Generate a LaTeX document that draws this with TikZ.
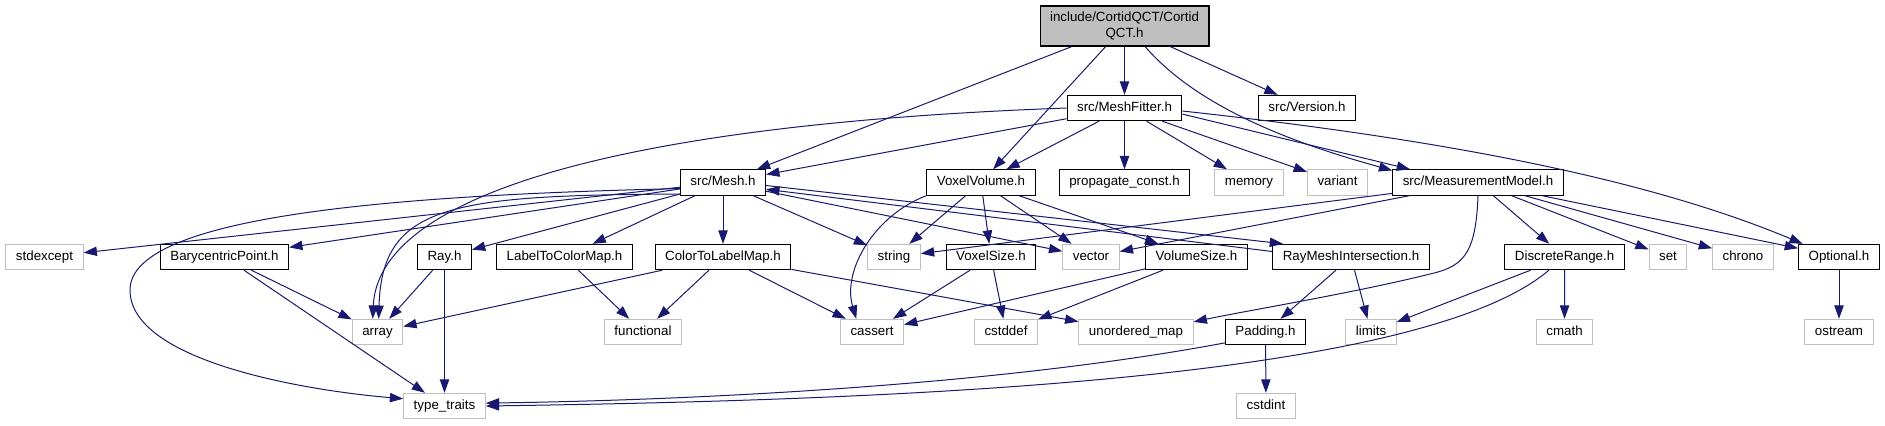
\documentclass[tikz,border=0pt]{standalone}
\usepackage{fontspec}
\setmainfont{Liberation Sans}
\usetikzlibrary{arrows.meta}
\definecolor{edgeblue}{HTML}{191970}
\definecolor{sysgray}{HTML}{BFBFBF}
\begin{document}
\begin{tikzpicture}[x=0.75pt,y=0.75pt,
  hdr/.style={draw=black,line width=0.8pt,inner xsep=7.5pt,inner ysep=0pt,minimum height=19pt,text height=7.3pt,text depth=2.2pt},
  sys/.style={hdr,draw=sysgray},
  inc/.style={draw=edgeblue,line width=0.75pt,-{Triangle[length=10pt,width=7pt]}}]
\useasboundingbox (0,0) rectangle (1885,-425);

% file of the graph
\node[draw=black,line width=0.8pt,fill=sysgray,align=center,inner xsep=7.5pt,minimum height=30pt] (root) at (1124.5,-26) {include/CortidQCT/Cortid\\QCT.h};

% first level
\node[hdr] (meshfitter) at (1124.5,-108) {src/MeshFitter.h};
\node[hdr] (version) at (1307,-108) {src/Version.h};

\node[hdr] (mesh) at (723,-182.5) {src/Mesh.h};
\node[hdr] (voxelvolume) at (981,-182.5) {VoxelVolume.h};
\node[hdr] (propconst) at (1124.5,-182.5) {propagate\_const.h};
\node[sys] (memory) at (1249,-182.5) {memory};
\node[sys] (variant) at (1337.5,-182.5) {variant};
\node[hdr] (measmodel) at (1478,-182.5) {src/MeasurementModel.h};

\node[sys] (stdexcept) at (44.5,-257) {stdexcept};
\node[hdr] (barypoint) at (224.5,-257) {BarycentricPoint.h};
\node[hdr] (ray) at (444.5,-257) {Ray.h};
\node[hdr] (labelmap) at (564.5,-257) {LabelToColorMap.h};
\node[hdr] (colormap) at (723,-257) {ColorToLabelMap.h};
\node[sys] (string) at (894,-257) {string};
\node[hdr] (voxelsize) at (991,-257) {VoxelSize.h};
\node[sys] (vector) at (1091,-257) {vector};
\node[hdr] (volumesize) at (1196.5,-257) {VolumeSize.h};
\node[hdr] (raymesh) at (1351,-257) {RayMeshIntersection.h};
\node[hdr] (discrange) at (1564.6,-257) {DiscreteRange.h};
\node[sys] (set) at (1668,-257) {set};
\node[sys] (chrono) at (1743,-257) {chrono};
\node[hdr] (optional) at (1839,-257) {Optional.h};

\node[sys] (array) at (377.5,-332) {array};
\node[sys] (functional) at (643,-332) {functional};
\node[sys] (cassert) at (872,-332) {cassert};
\node[sys] (cstddef) at (1006,-332) {cstddef};
\node[sys] (umap) at (1136,-332) {unordered\_map};
\node[hdr] (padding) at (1265.5,-332) {Padding.h};
\node[sys] (limits) at (1371,-332) {limits};
\node[sys] (cmath) at (1564.5,-332) {cmath};
\node[sys] (ostream) at (1839,-332) {ostream};

\node[sys] (typetraits) at (444.5,-406) {type\_traits};
\node[sys] (cstdint) at (1266,-406) {cstdint};

% includes
\foreach \a/\b in {root/mesh,root/voxelvolume,root/meshfitter,root/version,
  meshfitter/mesh,meshfitter/voxelvolume,meshfitter/propconst,meshfitter/memory,meshfitter/variant,
  mesh/stdexcept,mesh/barypoint,mesh/ray,mesh/labelmap,mesh/colormap,mesh/string,mesh/vector,
  voxelvolume/string,voxelvolume/voxelsize,voxelvolume/vector,voxelvolume/volumesize,
  measmodel/string,measmodel/vector,measmodel/discrange,measmodel/set,measmodel/chrono,
  barypoint/array,barypoint/typetraits,ray/array,ray/typetraits,labelmap/functional,
  colormap/array,colormap/functional,colormap/cassert,colormap/umap,
  voxelsize/cassert,voxelsize/cstddef,volumesize/cassert,volumesize/cstddef,
  raymesh/padding,raymesh/limits,padding/cstdint,discrange/limits,discrange/cmath,optional/ostream}
  \draw[inc] (\a) -- (\b);

\draw[inc] (meshfitter.-6) -- (measmodel.169);
\draw[inc] (measmodel) -- (optional.168);
\draw[inc] (mesh.-4) -- (raymesh.169);
\draw[inc] (raymesh.176) -- (mesh.-9);

% curved includes
\draw[inc] (root.-45) .. controls (1200,-110) and (1300,-145) .. (measmodel.172);
\draw[inc] (meshfitter.-3) .. controls (1450,-140) and (1650,-180) .. (optional.160);
\draw[inc] (meshfitter.west) .. controls (600,-125) and (378,-200) .. (array.110);
\draw[inc] (mesh.195) .. controls (450,-195) and (382,-205) .. (array.85);
\draw[inc] (mesh.188) .. controls (400,-195) and (130,-215) .. (130,-290)
  .. controls (130,-360) and (300,-390) .. (typetraits.170);
\draw[inc] (voxelvolume.south west) .. controls (875,-215) and (842,-270) .. (cassert.140);
\draw[inc] (measmodel.south) .. controls (1476,-250) and (1465,-264) .. (1438,-272)
  .. controls (1360,-292) and (1250,-310) .. (umap.10);
\draw[inc] (padding.195) .. controls (1000,-385) and (700,-400) .. (typetraits.4);
\draw[inc] (discrange.220) .. controls (1420,-380) and (900,-400) .. (typetraits.0);
\end{tikzpicture}
\end{document}
